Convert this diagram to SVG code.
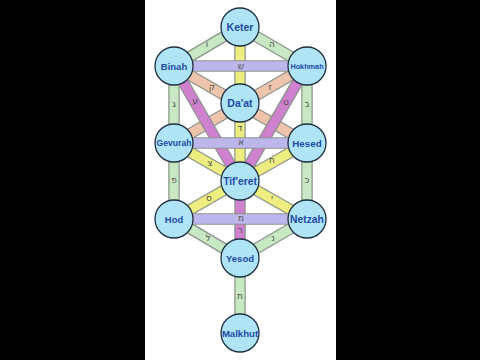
<svg xmlns="http://www.w3.org/2000/svg" width="480" height="360" viewBox="0 0 480 360">
<style>
.o{stroke:#8c938c;stroke-width:11.5}
.g{stroke:#c8e8c4;stroke-width:9}
.y{stroke:#eeee80;stroke-width:9}
.s{stroke:#efc4ac;stroke-width:9}
.m{stroke:#cf80cf;stroke-width:9}
.l{stroke:#bcb6ec;stroke-width:9.5}
.lt{font-family:"DejaVu Sans",sans-serif;font-size:9px;fill:#505050;text-anchor:middle;dominant-baseline:central}
circle{fill:#aee4f6;stroke:#1f2f3f;stroke-width:1.3}
.n{font-family:"Liberation Sans",Arial,sans-serif;font-weight:bold;fill:#1e4aa8;text-anchor:middle;dominant-baseline:central}
</style>
<rect width="480" height="360" fill="#000"/>
<rect x="145" y="0" width="191" height="360" fill="#fff"/>
<g id="connectors">
<line class="o" x1="240" y1="27" x2="174" y2="66"/><line class="g" x1="240" y1="27" x2="174" y2="66"/>
<line class="o" x1="240" y1="27" x2="307" y2="66"/><line class="g" x1="240" y1="27" x2="307" y2="66"/>
<line class="o" x1="174" y1="66" x2="174" y2="143"/><line class="g" x1="174" y1="66" x2="174" y2="143"/>
<line class="o" x1="307" y1="66" x2="307" y2="143"/><line class="g" x1="307" y1="66" x2="307" y2="143"/>
<line class="o" x1="174" y1="143" x2="174" y2="219"/><line class="g" x1="174" y1="143" x2="174" y2="219"/>
<line class="o" x1="307" y1="143" x2="307" y2="219"/><line class="g" x1="307" y1="143" x2="307" y2="219"/>
<line class="o" x1="174" y1="219" x2="240" y2="258"/><line class="g" x1="174" y1="219" x2="240" y2="258"/>
<line class="o" x1="307" y1="219" x2="240" y2="258"/><line class="g" x1="307" y1="219" x2="240" y2="258"/>
<line class="o" x1="240" y1="258" x2="240" y2="333"/><line class="g" x1="240" y1="258" x2="240" y2="333"/>
<line class="o" x1="174" y1="66" x2="307" y2="143"/><line class="s" x1="174" y1="66" x2="307" y2="143"/>
<line class="o" x1="307" y1="66" x2="174" y2="143"/><line class="s" x1="307" y1="66" x2="174" y2="143"/>
<line class="o" x1="174" y1="66" x2="240" y2="181"/><line class="m" x1="174" y1="66" x2="240" y2="181"/>
<line class="o" x1="307" y1="66" x2="240" y2="181"/><line class="m" x1="307" y1="66" x2="240" y2="181"/>
<line class="o" x1="240" y1="181" x2="240" y2="258"/><line class="m" x1="240" y1="181" x2="240" y2="258"/>
<line class="o" x1="240" y1="27" x2="240" y2="181"/><line class="y" x1="240" y1="27" x2="240" y2="181"/>
<line class="o" x1="174" y1="143" x2="240" y2="181"/><line class="y" x1="174" y1="143" x2="240" y2="181"/>
<line class="o" x1="307" y1="143" x2="240" y2="181"/><line class="y" x1="307" y1="143" x2="240" y2="181"/>
<line class="o" x1="174" y1="219" x2="240" y2="181"/><line class="y" x1="174" y1="219" x2="240" y2="181"/>
<line class="o" x1="307" y1="219" x2="240" y2="181"/><line class="y" x1="307" y1="219" x2="240" y2="181"/>
<line class="o" x1="174" y1="66" x2="307" y2="66"/><line class="l" x1="174" y1="66" x2="307" y2="66"/>
<line class="o" x1="174" y1="143" x2="307" y2="143"/><line class="l" x1="174" y1="143" x2="307" y2="143"/>
<line class="o" x1="174" y1="219" x2="307" y2="219"/><line class="l" x1="174" y1="219" x2="307" y2="219"/>
<text class="lt" x="207" y="44">ו</text>
<text class="lt" x="272" y="44">ה</text>
<text class="lt" x="241" y="66">ש</text>
<text class="lt" x="212" y="87">ק</text>
<text class="lt" x="270" y="87">ז</text>
<text class="lt" x="174" y="104">ג</text>
<text class="lt" x="307" y="104">ב</text>
<text class="lt" x="195" y="101">ע</text>
<text class="lt" x="286" y="102">ט</text>
<text class="lt" x="240" y="128">ד</text>
<text class="lt" x="241" y="142">א</text>
<text class="lt" x="210" y="163">צ</text>
<text class="lt" x="272" y="160">ח</text>
<text class="lt" x="174" y="180">פ</text>
<text class="lt" x="307" y="180">כ</text>
<text class="lt" x="209" y="198">ס</text>
<text class="lt" x="272" y="198">י</text>
<text class="lt" x="241" y="218">מ</text>
<text class="lt" x="240" y="230">ר</text>
<text class="lt" x="208" y="238">ל</text>
<text class="lt" x="273" y="238">נ</text>
<text class="lt" x="240" y="296">ת</text>
</g>
<g id="keter"><circle cx="240" cy="27" r="19"/><text class="n" x="240" y="27" font-size="10.5">Keter</text></g>
<g id="binah"><circle cx="174" cy="66" r="19"/><text class="n" x="174" y="66" font-size="9.5">Binah</text></g>
<g id="hokhmah"><circle cx="307" cy="66" r="19"/><text class="n" x="307" y="66" font-size="7.3">Hokhmah</text></g>
<g id="daat"><circle cx="240" cy="103" r="19"/><text class="n" x="240" y="103" font-size="10.5">Da'at</text></g>
<g id="gevurah"><circle cx="174" cy="143" r="19"/><text class="n" x="174" y="143" font-size="8.6">Gevurah</text></g>
<g id="hesed"><circle cx="307" cy="143" r="19"/><text class="n" x="307" y="143" font-size="9.8">Hesed</text></g>
<g id="tiferet"><circle cx="240" cy="181" r="19"/><text class="n" x="240" y="181" font-size="10.3">Tif'eret</text></g>
<g id="hod"><circle cx="174" cy="219" r="19"/><text class="n" x="174" y="219" font-size="9.5">Hod</text></g>
<g id="netzah"><circle cx="307" cy="219" r="19"/><text class="n" x="307" y="219" font-size="10.3">Netzah</text></g>
<g id="yesod"><circle cx="240" cy="258" r="19"/><text class="n" x="240" y="258" font-size="9.5">Yesod</text></g>
<g id="malkhut"><circle cx="240" cy="333" r="19"/><text class="n" x="240" y="333" font-size="9.6">Malkhut</text></g>
</svg>
